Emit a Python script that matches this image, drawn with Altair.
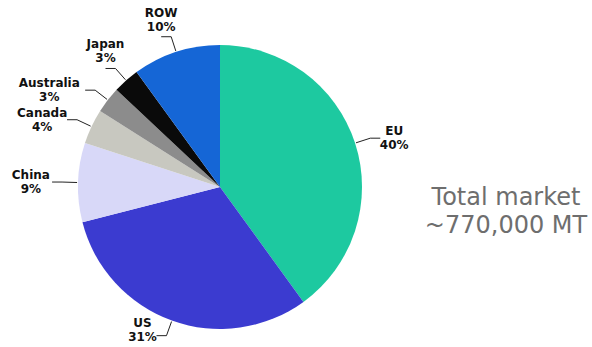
import altair as alt
import pandas as pd

countries = ["EU", "US", "China", "Canada", "Australia", "Japan", "ROW"]
shares = [40, 31, 9, 4, 3, 3, 10]
colors = ["#1DC9A0", "#3B3BD0", "#D8D8F8", "#C8C8C0", "#8C8C8C", "#0A0A0A", "#1566D6"]
note_lines = ["Total market", "~770,000 MT"]

df = pd.DataFrame({"country": countries, "share": shares, "idx": list(range(len(countries)))})

CX, CY, R = 220, 187, 142

base = alt.Chart(df).transform_window(
    cum="sum(share)", sort=[alt.SortField("idx")], frame=[None, 0]
).transform_calculate(
    mid="(datum.cum - datum.share/2) / 100 * 2 * PI",
    pct="datum.share + '%'",
).transform_calculate(
    side="sin(datum.mid) < 0 ? -1 : 1",
    ex=f"{CX} + {R+1}*sin(datum.mid)",
    ey=f"{CY} - {R+1}*cos(datum.mid)",
    bx=f"{CX} + {R+16}*sin(datum.mid)",
    by=f"{CY} - {R+16}*cos(datum.mid)",
    above="cos(datum.mid) > 0.7",
    w="max(length(datum.country), length(datum.pct)) * 7.3",
).transform_calculate(
    tx="datum.bx + 10*datum.side",
).transform_calculate(
    lx="datum.above ? datum.tx : datum.tx + datum.side*(3 + datum.w/2)",
    ly="datum.above ? datum.by - 17 : clamp(datum.by, 22, 330)",
)

xs = alt.Scale(domain=[0, 592], nice=False, zero=False)
ys = alt.Scale(domain=[0, 347], nice=False, zero=False, reverse=True)

pie = alt.Chart(df).mark_arc(radius=R).encode(
    x=alt.value(CX),
    y=alt.value(CY),
    theta=alt.Theta("share:Q", stack=True),
    color=alt.Color("country:N", scale=alt.Scale(domain=countries, range=colors), legend=None),
    order=alt.Order("idx:Q"),
)

leader1 = base.mark_rule(color="#222222", strokeWidth=1).encode(
    x=alt.X("ex:Q", scale=xs, axis=None),
    y=alt.Y("ey:Q", scale=ys, axis=None),
    x2="bx:Q",
    y2="by:Q",
)
leader2 = base.mark_rule(color="#222222", strokeWidth=1).encode(
    x=alt.X("bx:Q", scale=xs, axis=None),
    y=alt.Y("by:Q", scale=ys, axis=None),
    x2="tx:Q",
    y2="by:Q",
)

text_layers = []
for field, dy in (("country", -7), ("pct", 7)):
    text_layers.append(
        base.mark_text(
            font="DejaVu Sans", fontWeight="bold", fontSize=12,
            align="center", baseline="middle", color="#111111", dy=dy,
        ).encode(
            x=alt.X("lx:Q", scale=xs, axis=None),
            y=alt.Y("ly:Q", scale=ys, axis=None),
            text=f"{field}:N",
        )
    )

note_layers = []
for line, yy in zip(note_lines, (198, 226)):
    note_layers.append(
        alt.Chart(pd.DataFrame({"t": [line]})).mark_text(
            font="DejaVu Sans", fontSize=24, color="#6E6E6E",
            align="center", baseline="middle",
        ).encode(x=alt.value(506), y=alt.value(yy), text="t:N")
    )

chart = alt.layer(pie, leader1, leader2, *text_layers, *note_layers).properties(
    width=592, height=347, autosize="none", padding=0
).configure_view(stroke=None)

chart.save("out.html", embed_options={"renderer": "svg", "actions": False})
